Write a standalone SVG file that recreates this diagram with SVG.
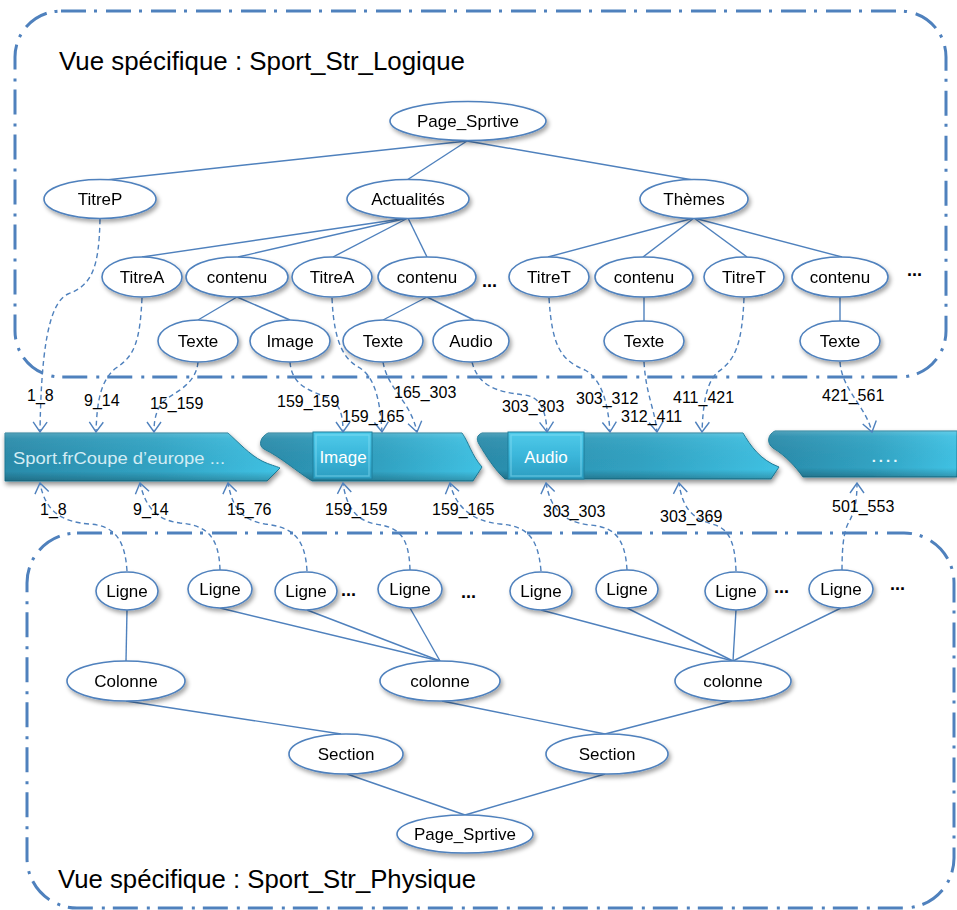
<svg xmlns="http://www.w3.org/2000/svg" width="957" height="910" viewBox="0 0 957 910">
<defs>
<style>
.box{fill:none;stroke:#4F81BD;stroke-width:3;stroke-dasharray:25,8,3,9}
.node ellipse{fill:#fff;stroke:#4F81BD;stroke-width:1.6}
.node{filter:url(#sh)}
.node text{font-family:"Liberation Sans",Arial,sans-serif;font-size:17px;fill:#000;text-anchor:middle}
.edge{fill:none;stroke:#4F81BD;stroke-width:1.4}
.dash{fill:none;stroke:#4F81BD;stroke-width:1.4;stroke-dasharray:5,3.5;marker-end:url(#arr)}
.elbl{font-family:"Liberation Sans",Arial,sans-serif;font-size:16px;fill:#000}
.title{font-family:"Liberation Sans",Arial,sans-serif;font-size:26px;fill:#000}
.dots{font-family:"Liberation Sans",Arial,sans-serif;font-size:18px;font-weight:bold;fill:#000}
.seg{fill:url(#bandG);stroke:#1F7A96;stroke-width:1}
.segv{fill:url(#bandV);stroke:none}
.btn{fill:url(#btnG);stroke:#1F7F9C;stroke-width:1}
.bevel{fill:none;stroke:#8FE3F6;stroke-width:1.5;stroke-opacity:0.45}
.btxt{font-family:"Liberation Sans",Arial,sans-serif;font-size:17px;fill:#fff;text-anchor:middle}
</style>
<filter id="sh" x="-20%" y="-20%" width="150%" height="160%">
<feDropShadow dx="2" dy="3" stdDeviation="2" flood-color="#000" flood-opacity="0.35"/>
</filter>
<filter id="bsh" x="-5%" y="-30%" width="110%" height="170%">
<feDropShadow dx="1" dy="3" stdDeviation="2.5" flood-color="#000" flood-opacity="0.45"/>
</filter>
<marker id="arr" viewBox="0 0 12 16" refX="11" refY="8" markerWidth="12" markerHeight="16" markerUnits="userSpaceOnUse" orient="auto">
<path d="M1,1 L11,8 L1,15" fill="none" stroke="#4F81BD" stroke-width="1.4"/>
</marker>
<linearGradient id="bandG" x1="0" y1="0" x2="1" y2="0">
<stop offset="0" stop-color="#2A8BAA"/>
<stop offset="0.55" stop-color="#31A3C3"/>
<stop offset="1" stop-color="#40C2E4"/>
</linearGradient>
<linearGradient id="bandV" x1="0" y1="0" x2="0" y2="1">
<stop offset="0" stop-color="#fff" stop-opacity="0.18"/>
<stop offset="0.12" stop-color="#fff" stop-opacity="0.05"/>
<stop offset="0.8" stop-color="#000" stop-opacity="0"/>
<stop offset="1" stop-color="#000" stop-opacity="0.22"/>
</linearGradient>
<linearGradient id="btnG" x1="0" y1="0" x2="0" y2="1">
<stop offset="0" stop-color="#4FCBEA"/>
<stop offset="0.5" stop-color="#3BB6DA"/>
<stop offset="1" stop-color="#2C9DC0"/>
</linearGradient>
</defs>

<rect width="957" height="910" fill="#fff"/>

<!-- view frames -->
<rect class="box" x="15" y="11" width="931" height="366" rx="46" ry="46"/>
<rect class="box" x="27" y="533" width="927" height="375" rx="50" ry="50"/>
<text class="title" x="59" y="70" textLength="406" lengthAdjust="spacingAndGlyphs">Vue spécifique : Sport_Str_Logique</text>
<text class="title" x="58" y="888" textLength="418" lengthAdjust="spacingAndGlyphs">Vue spécifique : Sport_Str_Physique</text>

<!-- band -->
<g id="band" filter="url(#bsh)">
<path class="seg" d="M5,433 L228,433 C238,442 250,455 262,461 C270,465 276,466 280,468 L267,481 L5,481 Z"/>
<path class="segv" d="M5,433 L228,433 C238,442 250,455 262,461 C270,465 276,466 280,468 L267,481 L5,481 Z"/>
<path class="seg" d="M268,433 L462,433 C468,441 472,456 482,467 L473,481 L312,481 C296,471 282,458 264,449 C258,446 260,437 268,433 Z"/>
<path class="segv" d="M268,433 L462,433 C468,441 472,456 482,467 L473,481 L312,481 C296,471 282,458 264,449 C258,446 260,437 268,433 Z"/>
<path class="seg" d="M482,433 L743,433 C750,445 760,460 779,467 L771,479 L505,479 C495,470 486,456 479,444 C476,439 477,435 482,433 Z"/>
<path class="segv" d="M482,433 L743,433 C750,445 760,460 779,467 L771,479 L505,479 C495,470 486,456 479,444 C476,439 477,435 482,433 Z"/>
<path class="seg" d="M775,431 L957,431 L957,477 L803,477 C795,466 786,456 773,448 C766,443 768,434 775,431 Z"/>
<path class="segv" d="M775,431 L957,431 L957,477 L803,477 C795,466 786,456 773,448 C766,443 768,434 775,431 Z"/>
<rect class="btn" x="313" y="432" width="59" height="47"/>
<rect class="bevel" x="316" y="435" width="53" height="41"/>
<rect class="btn" x="508" y="432" width="76" height="47"/>
<rect class="bevel" x="511" y="435" width="70" height="41"/>
</g>
<g id="band-text">
<text x="13" y="464" font-family="Liberation Sans, Arial, sans-serif" font-size="16" fill="#D2ECF4" textLength="212" lengthAdjust="spacingAndGlyphs">Sport.frCoupe d’europe ...</text>
<text class="btxt" x="343" y="463">Image</text>
<text class="btxt" x="546" y="463">Audio</text>
<text x="886" y="462" font-family="Liberation Sans, Arial, sans-serif" font-size="15" font-weight="bold" fill="#E8F7FC" text-anchor="middle" letter-spacing="3">....</text>
</g>

<!-- connectors -->
<g id="connectors">
<line class="edge" x1="467" y1="141" x2="106" y2="180"/>
<line class="edge" x1="467" y1="141" x2="407" y2="180"/>
<line class="edge" x1="467" y1="141" x2="693" y2="180"/>
<line class="edge" x1="408" y1="218" x2="142" y2="257"/>
<line class="edge" x1="408" y1="218" x2="238" y2="257"/>
<line class="edge" x1="408" y1="218" x2="333" y2="257"/>
<line class="edge" x1="408" y1="218" x2="427" y2="257"/>
<line class="edge" x1="694" y1="218" x2="548" y2="257"/>
<line class="edge" x1="694" y1="218" x2="643" y2="257"/>
<line class="edge" x1="694" y1="218" x2="747" y2="257"/>
<line class="edge" x1="694" y1="218" x2="842" y2="257"/>
<line class="edge" x1="237" y1="297" x2="198" y2="320"/>
<line class="edge" x1="237" y1="297" x2="290" y2="320"/>
<line class="edge" x1="427" y1="297" x2="383" y2="320"/>
<line class="edge" x1="427" y1="297" x2="474" y2="320"/>
<line class="edge" x1="644" y1="297" x2="644" y2="321"/>
<line class="edge" x1="840" y1="297" x2="840" y2="321"/>

<line class="edge" x1="127" y1="610" x2="126" y2="661"/>
<line class="edge" x1="220" y1="608" x2="440" y2="661"/>
<line class="edge" x1="307" y1="610" x2="440" y2="661"/>
<line class="edge" x1="410" y1="608" x2="440" y2="661"/>
<line class="edge" x1="541" y1="610" x2="733" y2="661"/>
<line class="edge" x1="627" y1="608" x2="733" y2="661"/>
<line class="edge" x1="736" y1="610" x2="733" y2="661"/>
<line class="edge" x1="841" y1="608" x2="733" y2="661"/>
<line class="edge" x1="126" y1="701" x2="341" y2="734"/>
<line class="edge" x1="442" y1="701" x2="605" y2="734"/>
<line class="edge" x1="732" y1="701" x2="605" y2="734"/>
<line class="edge" x1="347" y1="774" x2="465" y2="815"/>
<line class="edge" x1="605" y1="774" x2="465" y2="815"/>

<path class="dash" d="M100,219 C99,268 92,285 68,294 C47,303 41,360 40,432"/>
<path class="dash" d="M142,298 C140,340 135,356 116,368 C101,380 97,400 96,432"/>
<path class="dash" d="M198,362 C196,386 172,393 163,402 C156,410 154,420 154,432"/>
<path class="dash" d="M290,362 C292,390 318,392 332,400 C340,406 343,415 343,432"/>
<path class="dash" d="M332,298 C334,345 345,360 360,368 C375,378 380,400 382,432"/>
<path class="dash" d="M383,362 C388,390 410,400 417,432"/>
<path class="dash" d="M472,362 C478,385 495,392 525,395 C540,397 546,410 547,432"/>
<path class="dash" d="M549,298 C552,345 560,360 585,370 C600,378 608,400 610,432"/>
<path class="dash" d="M644,362 C646,395 655,410 657,432"/>
<path class="dash" d="M744,298 C742,345 735,360 718,372 C706,382 703,405 702,432"/>
<path class="dash" d="M840,362 C842,390 865,405 872,432"/>

<path class="dash" d="M127,571 C125,540 115,526 90,524 C60,522 45,510 40,483"/>
<path class="dash" d="M220,570 C219,535 205,525 180,523 C155,520 145,505 140,483"/>
<path class="dash" d="M307,571 C305,535 290,527 265,524 C240,520 232,505 228,483"/>
<path class="dash" d="M410,570 C409,535 398,527 375,524 C355,520 346,505 343,483"/>
<path class="dash" d="M541,571 C538,535 525,526 500,524 C470,521 455,505 450,483"/>
<path class="dash" d="M627,570 C625,535 612,527 590,525 C560,522 550,505 546,483"/>
<path class="dash" d="M736,571 C735,540 728,528 712,524 C690,518 682,505 679,483"/>
<path class="dash" d="M842,570 C842,540 845,528 850,520 C855,510 857,500 857,483"/>
</g>

<!-- connector labels -->
<g id="labels">
<text class="elbl" x="27" y="401">1_8</text>
<text class="elbl" x="84" y="406">9_14</text>
<text class="elbl" x="150" y="409">15_159</text>
<text class="elbl" x="277" y="407">159_159</text>
<text class="elbl" x="342" y="422">159_165</text>
<text class="elbl" x="394" y="398">165_303</text>
<text class="elbl" x="502" y="412">303_303</text>
<text class="elbl" x="576" y="404">303_312</text>
<text class="elbl" x="621" y="422">312_411</text>
<text class="elbl" x="673" y="403">411_421</text>
<text class="elbl" x="822" y="401">421_561</text>
<text class="elbl" x="40" y="515">1_8</text>
<text class="elbl" x="133" y="515">9_14</text>
<text class="elbl" x="227" y="515">15_76</text>
<text class="elbl" x="325" y="515">159_159</text>
<text class="elbl" x="432" y="515">159_165</text>
<text class="elbl" x="543" y="517">303_303</text>
<text class="elbl" x="660" y="522">303_369</text>
<text class="elbl" x="832" y="512">501_553</text>
</g>

<!-- ellipsis marks -->
<g id="ellipses">
<text class="dots" x="482" y="287">...</text>
<text class="dots" x="907" y="276">...</text>
<text class="dots" x="341" y="596">...</text>
<text class="dots" x="461" y="598">...</text>
<text class="dots" x="774" y="593">...</text>
<text class="dots" x="890" y="590">...</text>
</g>

<!-- logical view nodes -->
<g id="n-page-top" class="node"><ellipse cx="468" cy="121" rx="78" ry="19.5"/><text x="468" y="127">Page_Sprtive</text></g>
<g id="n-titrep" class="node"><ellipse cx="100" cy="199" rx="56" ry="19.5"/><text x="100" y="205">TitreP</text></g>
<g id="n-actualites" class="node"><ellipse cx="408" cy="199" rx="61" ry="19.5"/><text x="408" y="205">Actualités</text></g>
<g id="n-themes" class="node"><ellipse cx="694" cy="199" rx="54" ry="19.5"/><text x="694" y="205">Thèmes</text></g>
<g id="n-titrea1" class="node"><ellipse cx="142" cy="277" rx="40" ry="20"/><text x="142" y="283">TitreA</text></g>
<g id="n-contenu1" class="node"><ellipse cx="237" cy="277" rx="51" ry="20"/><text x="237" y="283">contenu</text></g>
<g id="n-titrea2" class="node"><ellipse cx="332" cy="277" rx="40" ry="20"/><text x="332" y="283">TitreA</text></g>
<g id="n-contenu2" class="node"><ellipse cx="427" cy="277" rx="49" ry="20"/><text x="427" y="283">contenu</text></g>
<g id="n-titret1" class="node"><ellipse cx="549" cy="277" rx="40" ry="20"/><text x="549" y="283">TitreT</text></g>
<g id="n-contenu3" class="node"><ellipse cx="644" cy="277" rx="49" ry="20"/><text x="644" y="283">contenu</text></g>
<g id="n-titret2" class="node"><ellipse cx="744" cy="277" rx="40" ry="20"/><text x="744" y="283">TitreT</text></g>
<g id="n-contenu4" class="node"><ellipse cx="840" cy="277" rx="48" ry="20"/><text x="840" y="283">contenu</text></g>
<g id="n-texte1" class="node"><ellipse cx="198" cy="341" rx="40" ry="21"/><text x="198" y="347">Texte</text></g>
<g id="n-image" class="node"><ellipse cx="290" cy="341" rx="40" ry="21"/><text x="290" y="347">Image</text></g>
<g id="n-texte2" class="node"><ellipse cx="383" cy="341" rx="40" ry="21"/><text x="383" y="347">Texte</text></g>
<g id="n-audio" class="node"><ellipse cx="471" cy="341" rx="38" ry="21"/><text x="471" y="347">Audio</text></g>
<g id="n-texte3" class="node"><ellipse cx="644" cy="341" rx="40" ry="20"/><text x="644" y="347">Texte</text></g>
<g id="n-texte4" class="node"><ellipse cx="840" cy="341" rx="40" ry="20"/><text x="840" y="347">Texte</text></g>

<!-- physical view nodes -->
<g id="n-ligne1" class="node"><ellipse cx="127" cy="591" rx="31" ry="19"/><text x="127" y="597">Ligne</text></g>
<g id="n-ligne2" class="node"><ellipse cx="220" cy="589" rx="32" ry="19"/><text x="220" y="595">Ligne</text></g>
<g id="n-ligne3" class="node"><ellipse cx="306" cy="591" rx="31" ry="19"/><text x="306" y="597">Ligne</text></g>
<g id="n-ligne4" class="node"><ellipse cx="410" cy="589" rx="32" ry="19"/><text x="410" y="595">Ligne</text></g>
<g id="n-ligne5" class="node"><ellipse cx="541" cy="591" rx="31" ry="19"/><text x="541" y="597">Ligne</text></g>
<g id="n-ligne6" class="node"><ellipse cx="627" cy="589" rx="31" ry="19"/><text x="627" y="595">Ligne</text></g>
<g id="n-ligne7" class="node"><ellipse cx="736" cy="591" rx="31" ry="19"/><text x="736" y="597">Ligne</text></g>
<g id="n-ligne8" class="node"><ellipse cx="841" cy="589" rx="32" ry="19"/><text x="841" y="595">Ligne</text></g>
<g id="n-colonne1" class="node"><ellipse cx="126" cy="681" rx="59" ry="20"/><text x="126" y="687">Colonne</text></g>
<g id="n-colonne2" class="node"><ellipse cx="440" cy="681" rx="60" ry="20"/><text x="440" y="687">colonne</text></g>
<g id="n-colonne3" class="node"><ellipse cx="733" cy="681" rx="58" ry="20"/><text x="733" y="687">colonne</text></g>
<g id="n-section1" class="node"><ellipse cx="346" cy="754" rx="57" ry="20"/><text x="346" y="760">Section</text></g>
<g id="n-section2" class="node"><ellipse cx="607" cy="754" rx="61" ry="20"/><text x="607" y="760">Section</text></g>
<g id="n-page-bottom" class="node"><ellipse cx="465" cy="834" rx="68" ry="19"/><text x="465" y="840">Page_Sprtive</text></g>
</svg>
